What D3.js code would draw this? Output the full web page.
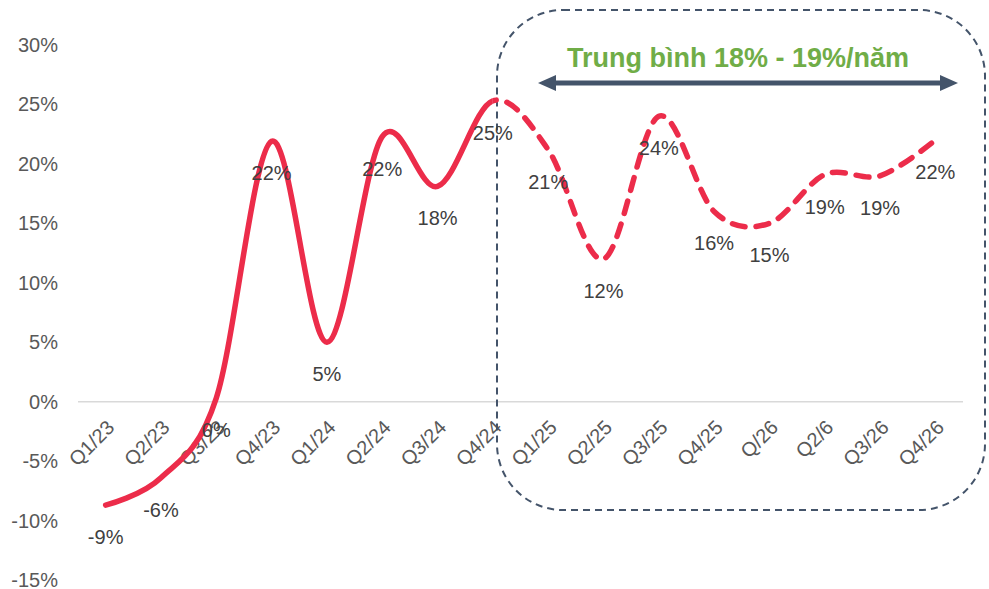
<!DOCTYPE html>
<html><head><meta charset="utf-8">
<script src="https://cdn.jsdelivr.net/npm/d3@7"></script>
<style>body{margin:0;background:#fff;font-family:"Liberation Sans",Arial,sans-serif}</style>
</head><body><svg id="c" width="989" height="589"></svg>
<script>
const categories = ["Q1/23","Q2/23","Q3/23","Q4/23","Q1/24","Q2/24","Q3/24","Q4/24","Q1/25","Q2/25","Q3/25","Q4/25","Q/26","Q2/6","Q3/26","Q4/26"];
const values = [-8.7,-6.4,0.3,21.9,5.0,22.3,18.1,25.3,21.2,12.0,24.0,16.0,15.0,19.1,19.0,22.0];
const valueLabels = ["-9%","-6%","0%","22%","5%","22%","18%","25%","21%","12%","24%","16%","15%","19%","19%","22%"];
const yTicks = [-15,-10,-5,0,5,10,15,20,25,30];
const actualEnd = 7; // last actual (solid) point index
const note = "Trung bình 18% - 19%/năm";

const svg = d3.select("#c");
const L = 78, R = 963;
const x = d3.scaleBand().domain(categories).range([L, R]);
const cx = c => x(c) + x.bandwidth()/2;
const y = d3.scaleLinear().domain([-15, 30]).range([580, 45]);

// y tick labels
svg.append("g").selectAll("text").data(yTicks).join("text")
  .attr("x", 58).attr("y", d => y(d)).attr("dy", "0.35em")
  .attr("text-anchor", "end").attr("font-size", 20).attr("fill", "#595959")
  .text(d => d + "%");

// zero line
svg.append("line").attr("x1", L).attr("x2", R).attr("y1", y(0)).attr("y2", y(0))
  .attr("stroke", "#d9d9d9").attr("stroke-width", 1.5);

// x tick labels
svg.append("g").selectAll("text").data(categories).join("text")
  .attr("transform", d => `translate(${cx(d)+10},${y(0)+27}) rotate(-45)`)
  .attr("text-anchor", "end").attr("font-size", 20).attr("fill", "#595959")
  .text(d => d);

// dashed rounded box
svg.append("rect").attr("x", 497).attr("y", 10).attr("width", 488).attr("height", 500)
  .attr("rx", 66).attr("ry", 66).attr("fill", "none")
  .attr("stroke", "#44546a").attr("stroke-width", 2).attr("stroke-dasharray", "7,5");

// line
const pts = categories.map((c, i) => [cx(c), y(values[i])]);
const line = d3.line().curve(d3.curveCatmullRom.alpha(0));
const splitX = pts[actualEnd][0];
const defs = svg.append("defs");
defs.append("clipPath").attr("id", "cl").append("rect").attr("x", 0).attr("y", 0).attr("width", splitX).attr("height", 589);
defs.append("clipPath").attr("id", "cr").append("rect").attr("x", splitX).attr("y", 0).attr("width", 989-splitX).attr("height", 589);
const red = "#ec2c4a";
svg.append("path").attr("d", line(pts)).attr("clip-path", "url(#cl)")
  .attr("fill", "none").attr("stroke", red).attr("stroke-width", 5.5).attr("stroke-linecap", "round");
svg.append("path").attr("d", line(pts)).attr("clip-path", "url(#cr)")
  .attr("fill", "none").attr("stroke", red).attr("stroke-width", 5.5)
  .attr("stroke-linecap", "round").attr("stroke-dasharray", "13,11");

// data labels
svg.append("g").selectAll("text").data(categories).join("text")
  .attr("x", (d, i) => cx(d)).attr("y", (d, i) => y(values[i]) + 32).attr("dy", "0.35em")
  .attr("text-anchor", "middle").attr("font-size", 20).attr("fill", "#404040")
  .text((d, i) => valueLabels[i]);

// arrow
const ac = "#44546a";
svg.append("line").attr("x1", 550).attr("x2", 945).attr("y1", 83).attr("y2", 83)
  .attr("stroke", ac).attr("stroke-width", 5);
svg.append("path").attr("d", "M538,83 L556,75 L556,91 Z").attr("fill", ac);
svg.append("path").attr("d", "M958,83 L940,75 L940,91 Z").attr("fill", ac);

svg.append("text").attr("x", 738).attr("y", 67).attr("text-anchor", "middle")
  .attr("font-size", 27).attr("font-weight", "bold").attr("fill", "#70ad47").text(note);
</script></body></html>
